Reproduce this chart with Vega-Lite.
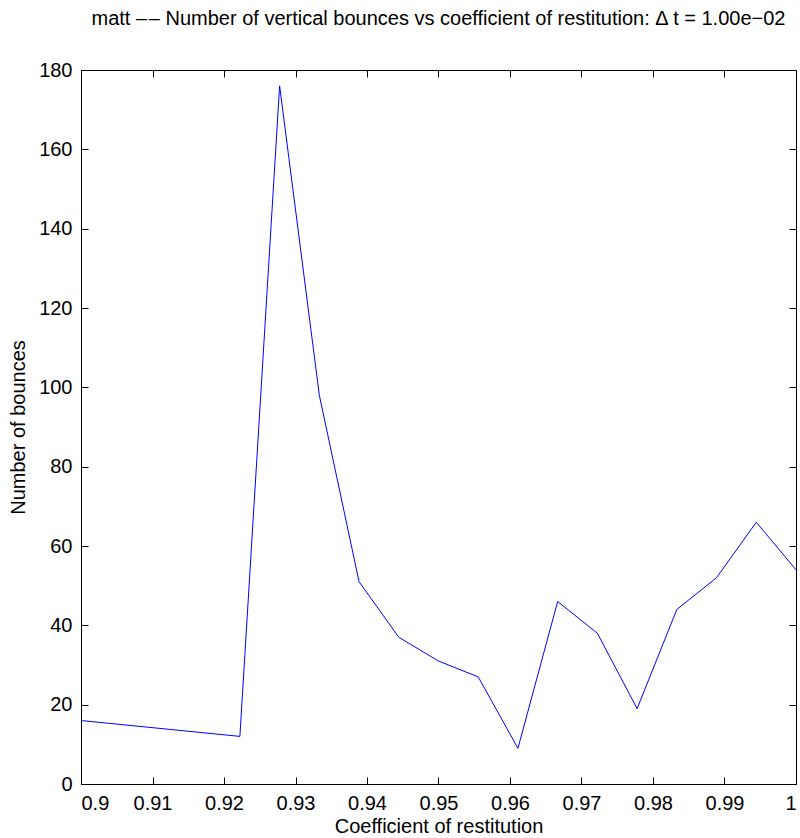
{
  "$schema": "https://vega.github.io/schema/vega-lite/v6.json",
  "autosize": "none",
  "width": 715,
  "height": 714,
  "padding": {"left": 81, "top": 70, "right": 4, "bottom": 54},
  "background": "white",
  "config": {
    "font": "Liberation Sans",
    "view": {"stroke": "black", "strokeWidth": 1},
    "axis": {
      "grid": false,
      "domainColor": "black",
      "tickColor": "black",
      "labelColor": "black",
      "titleColor": "black",
      "labelFont": "Liberation Sans",
      "titleFont": "Liberation Sans",
      "labelFontSize": 20,
      "titleFontSize": 20,
      "titleFontWeight": "normal",
      "tickSize": -7,
      "labelPadding": 16
    }
  },
  "title": {
    "text": "matt –\u200a– Number of vertical bounces vs coefficient of restitution: Δ t = 1.00e−02",
    "font": "Liberation Sans",
    "fontSize": 20,
    "fontWeight": "normal",
    "color": "black",
    "anchor": "middle",
    "frame": "group",
    "baseline": "alphabetic",
    "offset": 23,
    "dy": 8
  },
  "data": {
    "values": [
      {"e": 0.9, "n": 16},
      {"e": 0.922222, "n": 12},
      {"e": 0.927778, "n": 176},
      {"e": 0.933333, "n": 98},
      {"e": 0.938889, "n": 51},
      {"e": 0.944444, "n": 37},
      {"e": 0.95, "n": 31},
      {"e": 0.955556, "n": 27},
      {"e": 0.961111, "n": 9},
      {"e": 0.966667, "n": 46},
      {"e": 0.972222, "n": 38},
      {"e": 0.977778, "n": 19},
      {"e": 0.983333, "n": 44},
      {"e": 0.988889, "n": 52},
      {"e": 0.994444, "n": 66},
      {"e": 1.0, "n": 54}
    ]
  },
  "layer": [
    {
      "mark": {"type": "line", "color": "#0000ff", "strokeWidth": 1, "clip": true},
      "encoding": {
        "x": {
          "field": "e", "type": "quantitative",
          "scale": {"domain": [0.9, 1], "nice": false, "zero": false},
          "axis": {
            "title": "Coefficient of restitution",
            "values": [0.9, 0.91, 0.92, 0.93, 0.94, 0.95, 0.96, 0.97, 0.98, 0.99, 1],
            "format": ".2~f",
            "titlePadding": 3
          }
        },
        "y": {
          "field": "n", "type": "quantitative",
          "scale": {"domain": [0, 180], "nice": false},
          "axis": {
            "title": "Number of bounces",
            "values": [0, 20, 40, 60, 80, 100, 120, 140, 160, 180],
            "titlePadding": 10
          }
        }
      }
    },
    {
      "mark": {"type": "line", "opacity": 0},
      "encoding": {
        "x": {
          "field": "e", "type": "quantitative",
          "scale": {"domain": [0.9, 1], "nice": false, "zero": false},
          "axis": {
            "orient": "top", "title": null, "labels": false, "domain": false,
            "values": [0.9, 0.91, 0.92, 0.93, 0.94, 0.95, 0.96, 0.97, 0.98, 0.99, 1]
          }
        },
        "y": {
          "field": "n", "type": "quantitative",
          "scale": {"domain": [0, 180], "nice": false},
          "axis": {
            "orient": "right", "title": null, "labels": false, "domain": false,
            "values": [0, 20, 40, 60, 80, 100, 120, 140, 160, 180]
          }
        }
      }
    }
  ],
  "resolve": {"scale": {"x": "independent", "y": "independent"}}
}
